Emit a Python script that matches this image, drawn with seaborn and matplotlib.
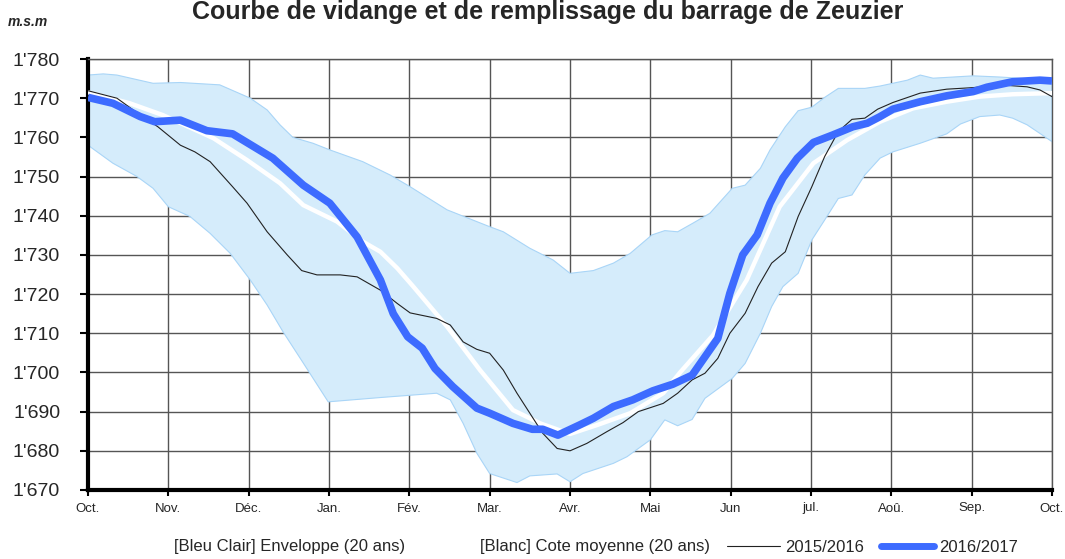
import numpy as np
import pandas as pd
import seaborn as sns
import matplotlib.pyplot as plt
from matplotlib.lines import Line2D

# x positions in months from 1 October (0 = Oct., 12 = Oct. next year)
months = ["Oct.", "Nov.", "Déc.", "Jan.", "Fév.", "Mar.", "Avr.", "Mai", "Jun", "jul.", "Aoû.", "Sep.", "Oct."]
y_ticks = list(range(1670, 1781, 10))
y_labels = [f"{v:,}".replace(",", "'") for v in y_ticks]

# 2016/2017 (thick blue)
x_1617 = [0.00, 0.31, 0.65, 0.83, 1.15, 1.48, 1.80, 2.30, 2.68, 3.01, 3.35, 3.64, 3.80, 3.98, 4.16,
          4.32, 4.54, 4.84, 5.00, 5.29, 5.53, 5.66, 5.85, 6.12, 6.29, 6.54, 6.78, 7.03, 7.28, 7.52,
          7.84, 7.99, 8.15, 8.33, 8.49, 8.65, 8.83, 9.03, 9.27, 9.52, 9.70, 9.86, 10.02, 10.36,
          10.69, 11.02, 11.19, 11.51, 11.85, 12.00]
y_1617 = [1770.2, 1768.7, 1765.3, 1764.0, 1764.4, 1761.7, 1760.9, 1754.7, 1747.8, 1743.2, 1734.6,
          1723.6, 1715.0, 1709.1, 1706.2, 1701.0, 1696.4, 1690.9, 1689.6, 1687.0, 1685.5, 1685.5,
          1684.0, 1686.6, 1688.3, 1691.3, 1693.0, 1695.3, 1697.0, 1699.3, 1708.7, 1720.2, 1730.0,
          1735.1, 1743.2, 1749.6, 1754.7, 1758.7, 1760.6, 1762.7, 1763.6, 1765.3, 1767.2, 1769.1,
          1770.6, 1771.7, 1772.8, 1774.2, 1774.6, 1774.4]

# 2015/2016 (thin black)
x_1516 = [0.00, 0.36, 0.65, 0.87, 1.15, 1.33, 1.52, 1.80, 1.98, 2.23, 2.48, 2.66, 2.85, 3.14, 3.35,
          3.64, 3.85, 4.01, 4.34, 4.51, 4.67, 4.84, 5.00, 5.17, 5.34, 5.50, 5.66, 5.84, 6.00, 6.21,
          6.46, 6.66, 6.85, 7.16, 7.34, 7.52, 7.68, 7.84, 7.99, 8.18, 8.34, 8.51, 8.68, 8.84, 9.01,
          9.17, 9.34, 9.51, 9.67, 9.83, 10.02, 10.36, 10.69, 11.02, 11.35, 11.69, 11.85, 12.00]
y_1516 = [1771.9, 1770.0, 1765.7, 1762.7, 1758.0, 1756.3, 1753.8, 1747.4, 1743.2, 1735.9, 1730.0,
          1726.0, 1724.9, 1724.9, 1724.4, 1721.0, 1717.6, 1715.2, 1713.8, 1712.1, 1707.8, 1705.9,
          1704.9, 1700.6, 1694.7, 1689.6, 1684.5, 1680.6, 1680.0, 1681.9, 1684.9, 1687.2, 1690.0,
          1692.1, 1694.7, 1698.1, 1699.8, 1703.6, 1710.0, 1715.1, 1721.9, 1727.9, 1730.8, 1739.8,
          1747.4, 1755.1, 1761.5, 1764.6, 1764.9, 1767.2, 1768.9, 1771.3, 1772.3, 1772.7, 1773.4,
          1772.9, 1772.1, 1770.4]

# 20-year mean (white)
x_mean = [0.00, 0.52, 0.93, 1.56, 1.98, 2.39, 2.68, 3.10, 3.42, 3.64, 3.85, 4.05, 4.47, 4.88, 5.29,
          5.63, 6.00, 6.34, 6.75, 7.16, 7.37, 7.78, 8.20, 8.61, 9.03, 9.45, 9.86, 10.27, 10.69,
          11.10, 11.51, 12.00]
y_mean = [1771.5, 1768.7, 1765.7, 1759.8, 1754.2, 1748.3, 1742.7, 1738.5, 1733.4, 1730.8, 1726.6,
          1721.9, 1711.7, 1700.6, 1690.4, 1687.0, 1684.3, 1686.6, 1689.6, 1694.7, 1700.0, 1709.5,
          1723.6, 1742.3, 1753.4, 1759.3, 1764.0, 1767.4, 1769.1, 1770.4, 1771.0, 1771.3]

# 20-year envelope
x_env_hi = [0.00, 0.19, 0.36, 0.81, 1.15, 1.64, 2.02, 2.23, 2.39, 2.55, 2.80, 3.01, 3.42, 3.76,
            4.01, 4.47, 5.00, 5.17, 5.50, 5.79, 6.00, 6.29, 6.54, 6.75, 7.02, 7.18, 7.34, 7.53,
            7.74, 8.02, 8.18, 8.37, 8.49, 8.68, 8.84, 9.01, 9.17, 9.34, 9.67, 9.86, 10.20, 10.36,
            10.52, 11.02, 11.35, 12.00]
y_env_hi = [1775.9, 1776.2, 1775.9, 1773.8, 1774.0, 1773.4, 1770.0, 1767.0, 1763.2, 1760.0, 1758.5,
            1756.8, 1753.8, 1750.4, 1747.4, 1741.5, 1737.2, 1735.9, 1731.7, 1728.7, 1725.3, 1726.0,
            1727.9, 1730.4, 1735.1, 1736.2, 1735.9, 1738.1, 1740.6, 1747.0, 1747.8, 1752.1, 1756.8,
            1762.7, 1766.8, 1767.7, 1770.2, 1772.5, 1772.5, 1773.1, 1774.6, 1775.9, 1775.1, 1775.7,
            1775.4, 1774.6]
x_env_lo = [0.00, 0.31, 0.61, 0.81, 1.00, 1.27, 1.52, 1.77, 2.02, 2.23, 2.43, 2.68, 2.99, 3.64,
            4.34, 4.51, 4.67, 4.84, 5.00, 5.34, 5.50, 5.84, 6.00, 6.16, 6.54, 6.71, 7.00, 7.18,
            7.34, 7.52, 7.68, 8.02, 8.18, 8.37, 8.51, 8.65, 8.84, 9.01, 9.17, 9.34, 9.51, 9.67,
            9.86, 10.02, 10.36, 10.69, 10.86, 11.10, 11.35, 11.51, 11.69, 11.85, 12.00]
y_env_lo = [1758.0, 1753.4, 1750.0, 1747.0, 1742.3, 1739.8, 1735.5, 1730.4, 1723.6, 1717.2, 1710.3,
            1702.4, 1692.5, 1693.6, 1694.7, 1693.0, 1687.0, 1679.4, 1674.2, 1671.9, 1673.6, 1674.1,
            1672.1, 1674.2, 1676.8, 1678.5, 1682.8, 1687.9, 1686.4, 1688.0, 1693.4, 1698.5, 1702.3,
            1710.0, 1716.8, 1721.9, 1725.3, 1733.8, 1738.9, 1744.4, 1745.3, 1750.4, 1754.7, 1756.3,
            1758.5, 1760.9, 1763.4, 1765.3, 1765.7, 1764.9, 1763.2, 1761.0, 1758.9]

sns.set_style("white")
plt.rcParams['font.family'] = ['Liberation Sans', 'DejaVu Sans']

fig = plt.figure(figsize=(10.65, 5.59), dpi=100)
ax = fig.add_axes([88 / 1065, 69 / 559, 964 / 1065, 431 / 559])

# envelope polygon
ax.fill(np.concatenate([x_env_hi, x_env_lo[::-1]]), np.concatenate([y_env_hi, y_env_lo[::-1]]),
        facecolor="#D5ECFB", edgecolor="#A9D5F7", linewidth=0.8, zorder=2)

sns.lineplot(x=x_mean, y=y_mean, color="white", linewidth=3.2, ax=ax, zorder=3)
sns.lineplot(x=x_1516, y=y_1516, color="#222222", linewidth=0.8, ax=ax, zorder=4)
sns.lineplot(x=x_1617, y=y_1617, color="#3D6BFF", linewidth=5.5, ax=ax, zorder=5,
             solid_capstyle="butt")

ax.set_xlim(0, 12)
ax.set_ylim(1670, 1780)
ax.set_xticks(range(len(months)))
ax.set_xticklabels(months, fontsize=9.5)
ax.set_yticks(y_ticks)
ax.set_yticklabels(y_labels, fontsize=14)
ax.grid(True, color="#555555", linewidth=1.0, zorder=0)
ax.set_axisbelow(True)
ax.tick_params(axis="y", direction="out", length=6, width=1.5, color="black", pad=14, left=True)
ax.tick_params(axis="x", direction="out", length=4, width=1.5, color="black", pad=5, bottom=True)
ax.set_xlabel("")
ax.set_ylabel("")
for side in ["left", "bottom"]:
    ax.spines[side].set_color("black")
    ax.spines[side].set_linewidth(3)
for side in ["top", "right"]:
    ax.spines[side].set_color("#555555")
    ax.spines[side].set_linewidth(1.0)

fig.text(548 / 1065, 1 - 19 / 559, "Courbe de vidange et de remplissage du barrage de Zeuzier",
         ha="center", va="baseline", fontsize=18, fontweight="bold")
fig.text(8 / 1065, 1 - 22 / 559, "m.s.m", ha="left", va="center", fontsize=10,
         fontweight="bold", style="italic")

handles = [
    Line2D([], [], color="white", linewidth=0),
    Line2D([], [], color="white", linewidth=0),
    Line2D([], [], color="#222222", linewidth=0.8),
    Line2D([], [], color="#3D6BFF", linewidth=5),
]
labels = ["[Bleu Clair] Enveloppe (20 ans)", "[Blanc] Cote moyenne (20 ans)", "2015/2016", "2016/2017"]
fig.legend(handles, labels, loc="center", bbox_to_anchor=(567 / 1065, 12 / 559), ncol=4,
           frameon=False, fontsize=12, handlelength=3.2, handletextpad=0.3, columnspacing=1.0)

fig.savefig("out.png", dpi=100)
